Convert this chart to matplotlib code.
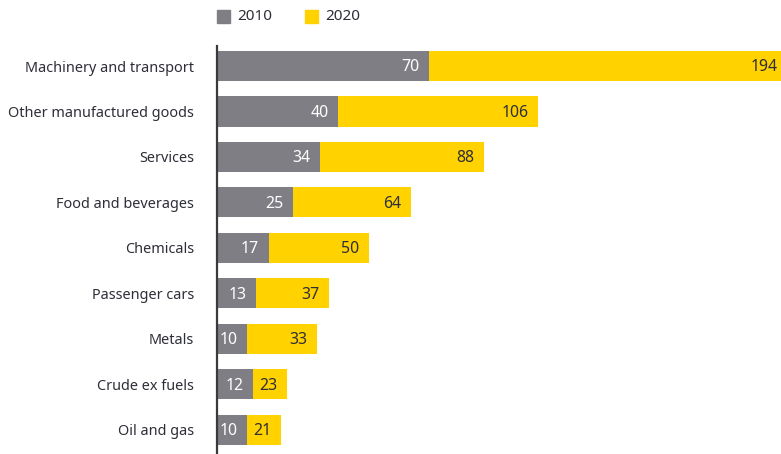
import matplotlib
matplotlib.use("Agg")
import matplotlib.pyplot as plt
from matplotlib.patches import Rectangle

categories = ["Machinery and transport", "Other manufactured goods", "Services",
              "Food and beverages", "Chemicals", "Passenger cars", "Metals",
              "Crude ex fuels", "Oil and gas"]
values_2010 = [70, 40, 34, 25, 17, 13, 10, 12, 10]
values_2020 = [194, 106, 88, 64, 50, 37, 33, 23, 21]

GRAY = "#7f7e84"
YELLOW = "#ffd200"
TEXT = "#2e2e38"

plt.rcParams["font.family"] = ["Noto Sans", "DejaVu Sans"]

W, H = 781, 454
fig = plt.figure(figsize=(W / 100, H / 100), dpi=100)
ax = fig.add_axes([217 / W, 0, 1 - 217 / W, 1 - 46 / H])

XMAX = 186.1
ypos = list(range(len(categories)))
bar_h = 0.66

ax.barh(ypos, values_2020, height=bar_h, color=YELLOW, zorder=2)
ax.barh(ypos, values_2010, height=bar_h, color=GRAY, zorder=3)

off = 3.1
for y, v10, v20 in zip(ypos, values_2010, values_2020):
    ax.text(v10 - off, y + 0.03, str(v10), ha="right", va="center", color="white",
            fontsize=11.4, zorder=4)
    x20 = min(v20, XMAX + 2.1)
    ax.text(x20 - off, y + 0.03, str(v20), ha="right", va="center", color=TEXT,
            fontsize=11.4, zorder=4)

ax.set_xlim(0, XMAX)
ax.set_ylim(len(categories) - 1 + 0.53, -0.44)
ax.set_yticks(ypos)
ax.set_yticklabels(categories, fontsize=10.4, color=TEXT)
ax.tick_params(axis="y", length=0, pad=16.5)
ax.set_xticks([])
for s in ["top", "right", "bottom"]:
    ax.spines[s].set_visible(False)
ax.spines["left"].set_color("#3a3a3a")
ax.spines["left"].set_linewidth(1.6)
ax.spines["left"].set_zorder(5)

# legend
def legend_item(x, label, color):
    fig.patches.append(Rectangle((x / W, 1 - 23 / H), 13 / W, 13 / H,
                                 transform=fig.transFigure, color=color))
    fig.text((x + 20) / W, 1 - 16.5 / H, label, ha="left", va="center",
             fontsize=11, color=TEXT)

legend_item(217, "2010", GRAY)
legend_item(305, "2020", YELLOW)

fig.savefig("out.png", dpi=100)
